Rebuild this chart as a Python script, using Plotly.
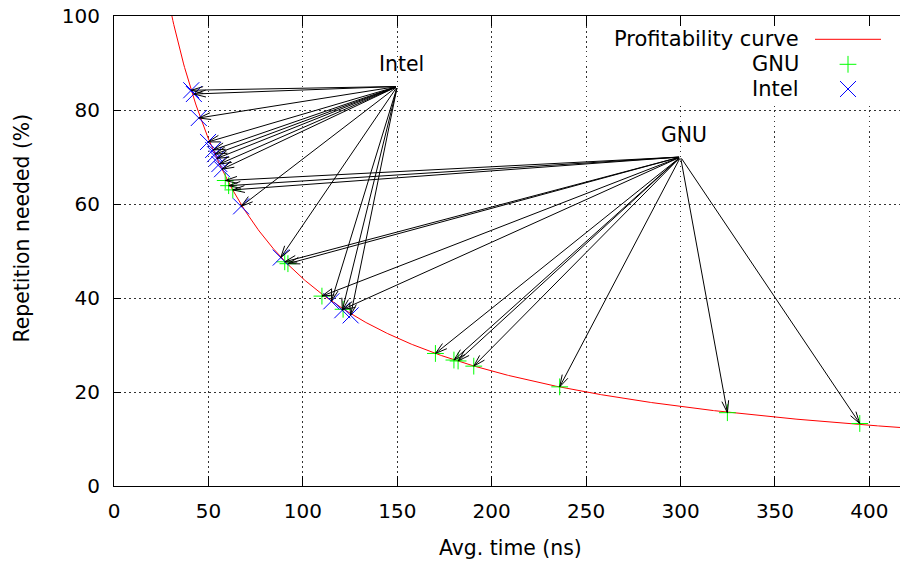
import math
import numpy as np
import plotly.graph_objects as go

# ---------------- data ----------------
gnu_time = [58.9, 60.7, 62.9, 90.4, 92.1, 110.1, 121.3, 170.2, 180.0, 182.2, 190.5, 236.0, 324.8, 394.9]
gnu_rep = [65.0, 63.9, 63.0, 47.7, 47.3, 40.4, 37.6, 28.2, 26.8, 26.6, 25.5, 21.1, 15.6, 13.3]
intel_time = [40.9, 42.3, 44.9, 49.8, 52.5, 53.5, 54.5, 55.8, 57.2, 67.3, 88.3, 115.1, 120.9, 125.3]
intel_rep = [84.2, 83.4, 78.3, 73.2, 71.5, 70.6, 69.7, 68.5, 67.4, 59.5, 48.6, 39.3, 37.4, 36.3]

# label anchors (arrow origins) and label text positions
gnu_origin = (300, 70)
intel_origin = (150, 85)
gnu_label_pos = (302, 74.6)
intel_label_pos = (152, 89.8)

# profitability curve: rep = A / (time + B)
CURVE_A = 5483.0
CURVE_B = 24.2

x_ticks = [0, 50, 100, 150, 200, 250, 300, 350, 400]
y_ticks = [0, 20, 40, 60, 80, 100]

# ---------------- layout constants ----------------
W, H = 900, 564
ML, MR, MT, MB = 114, 0, 16, 78
X_RANGE = [0, 416.2]
Y_RANGE = [0, 100]
PW, PH = W - ML - MR, H - MT - MB
SX = PW / (X_RANGE[1] - X_RANGE[0])
SY = PH / (Y_RANGE[1] - Y_RANGE[0])
FONT = "DejaVu Sans"
FS_TICK = 20
FS_TITLE = 20.4
FS_KEY = 21
HEAD_LEN = 14
HEAD_ANGLE = 16


def px_to_x(px):
    return X_RANGE[0] + (px - ML) / SX


def px_to_y(py):
    return Y_RANGE[0] + (H - MB - py) / SY


fig = go.Figure()

cx = np.linspace(X_RANGE[0] + 1, X_RANGE[1], 800)
cy = CURVE_A / (cx + CURVE_B)
fig.add_trace(go.Scatter(x=cx, y=cy, mode="lines", line=dict(color="#ff0000", width=1),
                         name="Profitability curve", showlegend=False, hoverinfo="skip"))
fig.add_trace(go.Scatter(x=gnu_time, y=gnu_rep, mode="markers", name="GNU", showlegend=False,
                         marker=dict(symbol="cross-thin", size=12, color="#00ff00",
                                     line=dict(color="#00ff00", width=1))))
fig.add_trace(go.Scatter(x=intel_time, y=intel_rep, mode="markers", name="Intel", showlegend=False,
                         marker=dict(symbol="x-thin", size=16, color="#0000ff",
                                     line=dict(color="#0000ff", width=1))))

# key samples (positions in pixels, converted through the axis scale)
KEY_TEXT_PX = 801
KEY_SAMPLE_PX = (815, 881)
KEY_ROWS_PX = [39.3, 64.3, 89.0]
KEY_MARK_PX = 848
fig.add_trace(go.Scatter(x=[px_to_x(KEY_SAMPLE_PX[0]), px_to_x(KEY_SAMPLE_PX[1])],
                         y=[px_to_y(KEY_ROWS_PX[0])] * 2, mode="lines",
                         line=dict(color="#ff0000", width=1), showlegend=False, hoverinfo="skip",
                         cliponaxis=False))
fig.add_trace(go.Scatter(x=[px_to_x(KEY_MARK_PX)], y=[px_to_y(KEY_ROWS_PX[1])], mode="markers",
                         marker=dict(symbol="cross-thin", size=12, color="#00ff00",
                                     line=dict(color="#00ff00", width=1)),
                         showlegend=False, hoverinfo="skip"))
fig.add_trace(go.Scatter(x=[px_to_x(KEY_MARK_PX)], y=[px_to_y(KEY_ROWS_PX[2])], mode="markers",
                         marker=dict(symbol="x-thin", size=16, color="#0000ff",
                                     line=dict(color="#0000ff", width=1)),
                         showlegend=False, hoverinfo="skip"))

annotations = []


def add_arrow(origin, tx, ty):
    ox, oy = origin
    annotations.append(dict(x=tx, y=ty, ax=ox, ay=oy, xref="x", yref="y", axref="x", ayref="y",
                            text="", showarrow=True, arrowhead=0, arrowwidth=1,
                            arrowcolor="black", standoff=0))
    dx = (ox - tx) * SX
    dy = -(oy - ty) * SY
    n = math.hypot(dx, dy)
    ux, uy = dx / n, dy / n
    for s in (1, -1):
        a = math.radians(HEAD_ANGLE) * s
        bx = ux * math.cos(a) - uy * math.sin(a)
        by = ux * math.sin(a) + uy * math.cos(a)
        annotations.append(dict(x=tx, y=ty, ax=bx * HEAD_LEN, ay=by * HEAD_LEN, xref="x", yref="y",
                                text="", showarrow=True, arrowhead=0, arrowwidth=1,
                                arrowcolor="black", standoff=0))


for tx, ty in zip(intel_time, intel_rep):
    add_arrow(intel_origin, tx, ty)
for tx, ty in zip(gnu_time, gnu_rep):
    add_arrow(gnu_origin, tx, ty)

annotations.append(dict(x=intel_label_pos[0], y=intel_label_pos[1], xref="x", yref="y", text="Intel",
                        showarrow=False, font=dict(family=FONT, size=FS_TITLE, color="black")))
annotations.append(dict(x=gnu_label_pos[0], y=gnu_label_pos[1], xref="x", yref="y", text="GNU",
                        showarrow=False, font=dict(family=FONT, size=FS_TITLE, color="black")))

for txt, ry in zip(["Profitability curve", "GNU", "Intel"], KEY_ROWS_PX):
    annotations.append(dict(x=(KEY_TEXT_PX - ML) / PW, y=(H - MB - ry) / PH, xref="paper", yref="paper",
                            text=txt, showarrow=False, xanchor="right", yanchor="middle",
                            font=dict(family=FONT, size=FS_KEY, color="black")))

# axis titles
annotations.append(dict(x=(510.5 - ML) / PW, y=(H - MB - 548) / PH, xref="paper", yref="paper",
                        text="Avg. time (ns)", showarrow=False, xanchor="center", yanchor="middle",
                        font=dict(family=FONT, size=FS_TITLE, color="black")))
annotations.append(dict(x=(21 - ML) / PW, y=(H - MB - 228.5) / PH, xref="paper", yref="paper",
                        text="Repetition needed (%)", showarrow=False, textangle=-90,
                        xanchor="center", yanchor="middle",
                        font=dict(family=FONT, size=FS_TITLE, color="black")))

# opaque key box (hides grid behind the key)
shapes = [dict(type="rect", xref="x", yref="y", x0=px_to_x(605), x1=X_RANGE[1],
               y0=px_to_y(103), y1=Y_RANGE[1], fillcolor="white", line=dict(width=0),
               layer="between")]

grid = dict(showgrid=True, gridcolor="#333", gridwidth=1, griddash="1.5px,3.5px")

fig.update_layout(
    width=W, height=H, margin=dict(l=ML, r=MR, t=MT, b=MB, pad=0),
    paper_bgcolor="white", plot_bgcolor="white",
    font=dict(family=FONT, size=FS_TICK, color="black"),
    showlegend=False,
    xaxis=dict(range=X_RANGE, tickvals=x_ticks, ticks="inside", ticklen=10, tickcolor="black",
               showline=True, linecolor="black", linewidth=1, mirror="ticks", zeroline=False,
               ticklabelstandoff=7, tickfont=dict(family=FONT, size=FS_TICK, color="black"), **grid),
    yaxis=dict(range=Y_RANGE, tickvals=y_ticks, ticks="inside", ticklen=7, tickcolor="black",
               showline=True, linecolor="black", linewidth=1, mirror=False, zeroline=False,
               ticklabelstandoff=9, tickfont=dict(family=FONT, size=FS_TICK, color="black"), **grid),
    annotations=annotations,
    shapes=shapes,
)

fig.write_html("out.html")
